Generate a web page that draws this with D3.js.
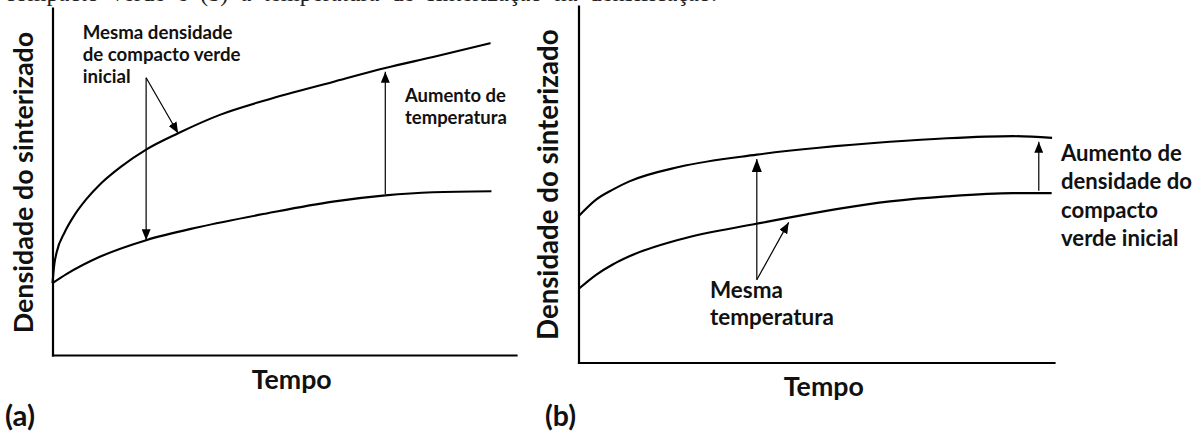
<html>
<head>
<style>
  body { margin: 0; background: white; }
  svg text { font-family: Lato, "Open Sans", sans-serif; font-weight: bold; fill: #111; }
  .caption { font-family: "Liberation Serif", "Times New Roman", serif; font-weight: normal; fill: #222; }
</style>
<script src="https://cdn.jsdelivr.net/npm/d3@7"></script>
</head>
<body>
<svg id="chart" width="1203" height="432"></svg>
<script>
// (a) mesma densidade de compacto verde, temperaturas diferentes
let tempoA1 = [0, 0.4, 0.9, 2.6, 4.4, 7.3, 10.5, 14.8, 20.2, 27.1, 36.1, 46.2, 60.5, 71.8, 82.1, 94.5]
let densA1  = [20.7, 26.2, 29.6, 35.3, 39.6, 44.9, 49.5, 54.3, 59.2, 63.9, 69.2, 73.5, 78.7, 82.7, 85.9, 89.9]
let tempoA2 = [0, 3.0, 10.2, 20.2, 31.7, 46.2, 60.5, 71.8, 82.1, 94.7]
let densA2  = [20.7, 23.3, 28.3, 33.1, 36.9, 40.8, 44.2, 46.0, 46.9, 47.2]

// (b) mesma temperatura, densidades iniciais diferentes
let tempoB1 = [0, 3.7, 7.2, 10.7, 21.3, 37.5, 65.5, 77.5, 91.4, 99.6]
let densB1  = [41.0, 45.7, 48.5, 50.8, 54.9, 58.3, 61.9, 62.9, 63.5, 63.0]
let tempoB2 = [0, 3.7, 7.2, 10.7, 21.3, 37.4, 65.5, 77.4, 91.4, 99.5]
let densB2  = [20.6, 24.6, 27.5, 29.8, 34.5, 38.9, 45.2, 46.6, 47.5, 47.5]

// setas, em unidades dos eixos: [x1, y1, x2, y2]
let setasA = [[20.2, 79.9, 20.2, 33.1], [20.2, 79.9, 27.1, 63.9], [71.8, 46.4, 71.8, 81.6]]
let setasB = [[37.5, 23.2, 37.5, 57.1], [37.5, 23.2, 44.2, 39.3], [96.8, 48.2, 96.8, 61.9]]

let eixoY = "Densidade do sinterizado"
let eixoX = "Tempo"
let notaA1 = ["Mesma densidade", "de compacto verde", "inicial"]
let notaA2 = ["Aumento de", "temperatura"]
let notaB1 = ["Mesma", "temperatura"]
let notaB2 = ["Aumento de", "densidade do", "compacto", "verde inicial"]
let legenda = "compacto verde e (b) a temperatura de sinterização na densificação."

let svg = d3.select("#chart")

let xA = d3.scaleLinear().domain([0, 100]).range([52.5, 516])
let yA = d3.scaleLinear().domain([0, 100]).range([355, 8])
let xB = d3.scaleLinear().domain([0, 100]).range([578.5, 1054])
let yB = d3.scaleLinear().domain([0, 100]).range([362.5, 6])

let defs = svg.append("defs")
function marker(id, len, wid) {
  defs.append("marker").attr("id", id)
    .attr("markerUnits", "userSpaceOnUse")
    .attr("markerWidth", len).attr("markerHeight", wid)
    .attr("refX", len).attr("refY", wid / 2)
    .attr("orient", "auto")
    .append("path")
    .attr("d", `M0,0L${len},${wid / 2}L0,${wid}Z`)
    .attr("fill", "#000")
}
marker("ponta", 11, 9)
marker("pontaG", 13, 10)

// ajusta o tamanho da fonte para a linha mais larga ter w px
function fit(sel, w) {
  let widest = d3.max(sel.nodes(), n => n.getComputedTextLength())
  let fs = parseFloat(sel.attr("font-size"))
  sel.attr("font-size", fs * w / widest)
}

function nota(lines, x, y, lh, w) {
  let t = svg.append("g").selectAll("text").data(lines).enter().append("text")
    .attr("x", x)
    .attr("y", (d, i) => y + i * lh)
    .attr("font-size", 16)
    .text(d => d)
  fit(t, w)
}

function painel(x, y, curvas, setas, pontas) {
  let g = svg.append("g")
  g.append("g").attr("transform", `translate(0,${y.range()[0]})`)
    .call(d3.axisBottom(x).tickValues([]).tickSizeOuter(0))
  g.append("g").attr("transform", `translate(${x.range()[0]},0)`)
    .call(d3.axisLeft(y).tickValues([]).tickSizeOuter(0))
  g.selectAll(".domain")
    .attr("stroke", "#000")
    .attr("stroke-width", 2.2)
    .attr("stroke-linecap", "square")

  let line = d3.line()
    .x(d => x(d[0]))
    .y(d => y(d[1]))
    .curve(d3.curveMonotoneX)

  g.selectAll(".curva").data(curvas).enter().append("path")
    .attr("class", "curva")
    .attr("d", line)
    .attr("fill", "none")
    .attr("stroke", "#000")
    .attr("stroke-width", 2.1)

  g.selectAll(".seta").data(setas).enter().append("line")
    .attr("class", "seta")
    .attr("x1", d => x(d[0]))
    .attr("y1", d => y(d[1]))
    .attr("x2", d => x(d[2]))
    .attr("y2", d => y(d[3]))
    .attr("stroke", "#000")
    .attr("stroke-width", 1.2)
    .attr("marker-end", (d, i) => `url(#${pontas[i]})`)
}

painel(xA, yA, [d3.zip(tempoA1, densA1), d3.zip(tempoA2, densA2)], setasA, ["ponta", "ponta", "ponta"])
painel(xB, yB, [d3.zip(tempoB1, densB1), d3.zip(tempoB2, densB2)], setasB, ["pontaG", "ponta", "ponta"])

// titulos dos eixos
function tituloY(cx, cy, w) {
  let t = svg.append("text")
    .attr("transform", `translate(${cx},${cy}) rotate(-90)`)
    .attr("text-anchor", "middle")
    .attr("font-size", 20)
    .text(eixoY)
  fit(t, w)
}
tituloY(33.3, 182.5, 301.7)
tituloY(558.3, 184.7, 310.7)

function tituloX(cx, y) {
  let t = svg.append("text")
    .attr("x", cx).attr("y", y)
    .attr("text-anchor", "middle")
    .attr("font-size", 20)
    .text(eixoX)
  fit(t, 80)
}
tituloX(291.7, 389.3)
tituloX(823.8, 396)

nota(["(a)"], 5, 426, 0, 30)
nota(["(b)"], 545, 426, 0, 31)

nota(notaA1, 82.7, 39, 22.2, 158)
nota(notaA2, 405, 102.3, 22, 102)
nota(notaB1, 710, 298, 27, 124)
nota(notaB2, 1061, 161, 28.3, 131)

// resto da legenda da figura, cortado no topo (texto justificado)
svg.append("text")
  .attr("class", "caption")
  .attr("x", 717).attr("y", 0.5)
  .attr("text-anchor", "end")
  .attr("font-size", 24.3)
  .attr("word-spacing", 6)
  .text(legenda)
</script>
</body>
</html>
